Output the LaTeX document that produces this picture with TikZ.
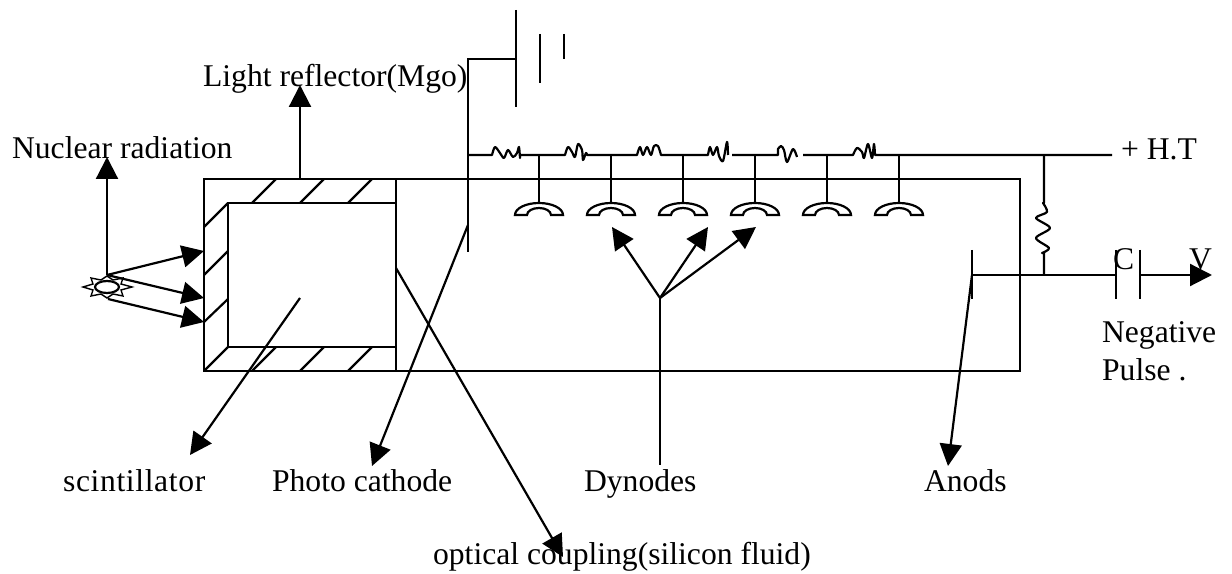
\documentclass[tikz,border=0pt]{standalone}
\usepackage{fontspec}
\setmainfont{Liberation Serif}
\usetikzlibrary{arrows.meta, shapes.geometric}

\begin{document}
\begin{tikzpicture}[
        x=0.02cm, y=-0.02cm,
        line width=1.25pt,
        boxpart/.style={draw, inner sep=0pt, outer sep=0pt},
        lbl/.style={anchor=base west, inner sep=0pt, font=\fontsize{18}{22}\selectfont},
        arrow/.style={-{Triangle[length=0.44cm, width=0.44cm]}},
        dynode/.pic={
            \draw (-24,0) arc[start angle=180, end angle=360, x radius=24, y radius=12] -- (12,0)
                arc[start angle=360, end angle=180, x radius=12, y radius=7] -- cycle;
            \coordinate (-top) at (0,-12);
        }
    ]
        \useasboundingbox (0,0) rectangle (1232,574);

        % labels
        \node[lbl] (nuclear) at (11,159) {Nuclear radiation};
        \node[lbl] (reflector) at (202,87) {Light reflector(Mgo)};
        \node[lbl] (ht) at (1120,160) {+ H.T};
        \node[lbl] (cap) at (1112,270) {C};
        \node[lbl] (volt) at (1188,270) {V};
        \node[lbl] (neg) at (1101,343) {Negative};
        \node[lbl] (pulse) at (1101,381) {Pulse .};
        \node[lbl] (scint) at (62,492) {\addfontfeatures{LetterSpace=2}scintillator};
        \node[lbl] (cathode) at (271,492) {Photo cathode};
        \node[lbl] (dyn) at (583,492) {Dynodes};
        \node[lbl] (anods) at (923,492) {Anods};
        \node[lbl] (coupling) at (432,564) {optical coupling(silicon fluid)};

        % tube and crystal
        \node[boxpart, minimum width=16.32cm, minimum height=3.84cm] (tube) at (612,275) {};
        \node[boxpart, minimum width=3.36cm, minimum height=2.88cm] (crystal) at (312,275) {};
        \draw (396,179) -- (396,371);
        \draw (204,227) -- (228,203) (204,275) -- (228,251) (204,322) -- (228,299) (204,371) -- (228,347);
        \draw (252,203) -- (276,179) (300,203) -- (324,179) (348,203) -- (372,179);
        \draw (252,371) -- (276,347) (300,371) -- (324,347) (348,371) -- (372,347);

        % radiation source
        \draw[line width=0.8pt, fill=white] (132,287) -- (121,284) -- (123,278) -- (113,280) -- (107,276)
            -- (101,280) -- (91,278) -- (93,284) -- (83,287) -- (93,290) -- (91,296) -- (101,294)
            -- (107,298) -- (113,294) -- (123,296) -- (121,290) -- cycle;
        \node[ellipse, boxpart, fill=white, minimum width=0.48cm, minimum height=0.24cm] (source) at (107,287) {};
        \coordinate (srctop) at (107,275);
        \coordinate (srcbot) at (108,299);
        \coordinate (hit1) at (204,251);
        \coordinate (hit2) at (204,298);
        \coordinate (hit3) at (204,322);
        \coordinate (nucltip) at (107,157);
        \draw[arrow] (srctop) -- (nucltip);
        \draw[arrow] (srctop) -- (hit1);
        \draw[arrow] (srctop) -- (hit2);
        \draw[arrow] (srcbot) -- (hit3);

        % photo cathode and battery
        \coordinate (pctop) at (468,59);
        \coordinate (pcbot) at (468,252);
        \coordinate (bat) at (516,59);
        \draw (bat) -- (pctop) -- (pcbot);
        \draw (516,10) -- (516,107);
        \draw (540,34) -- (540,83);
        \draw (564,34) -- (564,59);

        % divider chain
        \coordinate (rail) at (468,155);
        \coordinate (railend) at (1112,155);
        \draw[line join=round] (rail) -- (492,155)
            -- plot[smooth] coordinates {(492,155) (495,147) (500,153) (504,158) (508,150) (513,157) (517,153) (519,147) (520,158) (520,155)}
            -- (564,155)
            -- plot[smooth] coordinates {(565,155) (568,147) (572,152) (575,157) (578,144) (582,150) (583,160) (586,153) (587,155)}
            -- (636,155)
            -- plot[smooth] coordinates {(637,155) (640,147) (643,155) (647,147) (651,155) (654,146) (658,146) (661,155)}
            -- (708,155)
            -- plot[smooth] coordinates {(708,155) (710,147) (713,155) (717,147) (719,156) (723,161) (727,142) (728,155)}
            (732,155) -- (778,155)
            -- plot[smooth] coordinates {(778,149) (781,146) (784,150) (787,162) (793,149) (797,157)}
            (803,155) -- (852,155)
            -- plot[smooth] coordinates {(853,155) (857,148) (862,152) (864,158) (868,144) (872,158) (874,144) (875,155)}
            -- (railend);

        % dynodes
        \pic (d1) at (539,215) {dynode};
        \pic (d2) at (611,215) {dynode};
        \pic (d3) at (683,215) {dynode};
        \pic (d4) at (755,215) {dynode};
        \pic (d5) at (827,215) {dynode};
        \pic (d6) at (899,215) {dynode};
        \draw (d1-top |- rail) -- (d1-top);
        \draw (d2-top |- rail) -- (d2-top);
        \draw (d3-top |- rail) -- (d3-top);
        \draw (d4-top |- rail) -- (d4-top);
        \draw (d5-top |- rail) -- (d5-top);
        \draw (d6-top |- rail) -- (d6-top);

        % anode, load and output
        \coordinate (anode) at (972,275);
        \coordinate (load) at (1044,275);
        \coordinate (capl) at (1116,275);
        \coordinate (capr) at (1140,275);
        \coordinate (out) at (1212,275);
        \draw (972,250) -- (972,299);
        \draw (1116,250) -- (1116,299);
        \draw (1140,250) -- (1140,299);
        \draw (anode) -- (capl);
        \draw[arrow] (capr) -- (out);
        \draw[line join=round] (load |- rail) -- (1044,203)
            -- plot[smooth] coordinates {(1043,203) (1047,212) (1036,218) (1050,228) (1036,238) (1049,248) (1042,253)}
            -- (1044,253) -- (load);

        % pointers
        \coordinate (reflbase) at (300,179);
        \coordinate (refltip) at (300,85);
        \draw[arrow] (reflbase) -- (refltip);
        \coordinate (scintbase) at (300,298);
        \coordinate (scinttip) at (190,455);
        \draw[arrow] (scintbase) -- (scinttip);
        \coordinate (pcbase) at (468,225);
        \coordinate (pctip) at (372,466);
        \draw[arrow] (pcbase) -- (pctip);
        \coordinate (cplbase) at (396,268);
        \coordinate (cpltip) at (563,557);
        \draw[arrow] (cplbase) -- (cpltip);
        \coordinate (fork) at (660,298);
        \coordinate (dyntip1) at (612,227);
        \coordinate (dyntip2) at (708,227);
        \coordinate (dyntip3) at (756,227);
        \coordinate (dynbase) at (660,465);
        \draw (dynbase) -- (fork);
        \draw[arrow] (fork) -- (dyntip1);
        \draw[arrow] (fork) -- (dyntip2);
        \draw[arrow] (fork) -- (dyntip3);
        \coordinate (anodtip) at (948,466);
        \draw[arrow] (anode) -- (anodtip);
    \end{tikzpicture}
\end{document}
